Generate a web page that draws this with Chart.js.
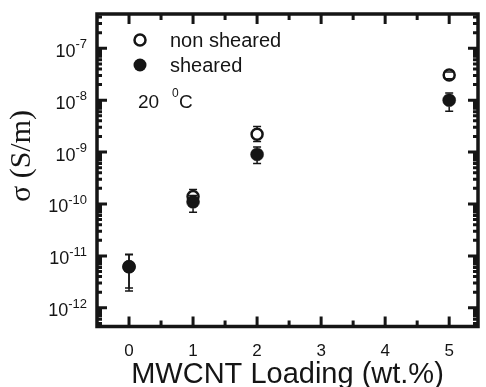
<!DOCTYPE html>
<html>
<head>
<meta charset="utf-8">
<script src="https://cdn.jsdelivr.net/npm/chart.js@4.4.1/dist/chart.umd.min.js"></script>
<style>
  html, body { margin: 0; padding: 0; background: #fff; }
</style>
</head>
<body>
<canvas id="conductivityChart" width="486" height="387"></canvas>
<script>
// MWCNT loading (wt.%) and conductivity (S/m)
const loadings = [0, 1, 2, 5];
const nonSheared = [6.2e-12, 1.4e-10, 2.2e-9, 3.05e-8];
const nonShearedLow = [2.1e-12, 1.1e-10, 1.6e-9, 2.6e-8];
const nonShearedHigh = [1.05e-11, 1.9e-10, 3.1e-9, 3.5e-8];
const sheared = [6.2e-12, 1.1e-10, 9.0e-10, 1.0e-8];
const shearedLow = [2.4e-12, 6.9e-11, 6.0e-10, 6.1e-9];
const shearedHigh = [1.08e-11, 1.45e-10, 1.25e-9, 1.38e-8];

const xTicks = [0, 0.5, 1, 1.5, 2, 2.5, 3, 3.5, 4, 4.5, 5];
const yTickExps = [-12, -11, -10, -9, -8, -7];
const yMinorSteps = [2, 3, 4, 5, 6, 7, 8, 9];

const sansFont = '"Liberation Sans", Arial, sans-serif';
const serifFont = '"Liberation Serif", "Times New Roman", serif';
const ink = '#151515';

const toPoints = (vals) => loadings.map((x, i) => ({ x: x, y: vals[i] }));

const OPEN_R = 5.5;
const FILLED_R = 6.5;

const decorPlugin = {
    id: 'decor',
    afterDatasetsDraw(chart) {
        const { ctx, scales: { x, y } } = chart;
        ctx.save();
        ctx.strokeStyle = ink;
        ctx.lineWidth = 1.5;
        const drawBars = (vals, lows, highs, r) => {
            loadings.forEach((v, i) => {
                const px = x.getPixelForValue(v);
                const py = y.getPixelForValue(vals[i]);
                const lo = y.getPixelForValue(lows[i]);
                const hi = y.getPixelForValue(highs[i]);
                ctx.beginPath();
                if (hi < py - r) { ctx.moveTo(px, py - r); ctx.lineTo(px, hi); }
                if (lo > py + r) { ctx.moveTo(px, py + r); ctx.lineTo(px, lo); }
                ctx.moveTo(px - 4, hi); ctx.lineTo(px + 4, hi);
                ctx.moveTo(px - 4, lo); ctx.lineTo(px + 4, lo);
                ctx.stroke();
            });
        };
        drawBars(nonSheared, nonShearedLow, nonShearedHigh, OPEN_R);
        drawBars(sheared, shearedLow, shearedHigh, FILLED_R);
        ctx.restore();
    },
    afterDraw(chart) {
        const { ctx, chartArea: a, scales: { x, y } } = chart;
        ctx.save();
        ctx.strokeStyle = ink;
        ctx.fillStyle = ink;

        // frame
        ctx.lineWidth = 3.5;
        ctx.strokeRect(a.left, a.top, a.right - a.left, a.bottom - a.top);

        // inward ticks, x (top and bottom)
        ctx.lineWidth = 3;
        ctx.beginPath();
        xTicks.forEach(v => {
            const px = x.getPixelForValue(v);
            const len = Number.isInteger(v) ? 10 : 6;
            ctx.moveTo(px, a.bottom); ctx.lineTo(px, a.bottom - len);
            ctx.moveTo(px, a.top); ctx.lineTo(px, a.top + len);
        });
        // inward ticks, y (left and right)
        const yVals = [];
        [-13].concat(yTickExps).forEach(e => {
            yVals.push({ v: Math.pow(10, e), major: true });
            yMinorSteps.forEach(k => yVals.push({ v: k * Math.pow(10, e), major: false }));
        });
        yVals.forEach(t => {
            if (t.v < y.min || t.v > y.max) return;
            const py = y.getPixelForValue(t.v);
            const len = t.major ? 10 : 5;
            ctx.moveTo(a.left, py); ctx.lineTo(a.left + len, py);
            ctx.moveTo(a.right, py); ctx.lineTo(a.right - len, py);
        });
        ctx.stroke();

        // y tick labels with superscript exponents
        yTickExps.forEach(e => {
            const py = y.getPixelForValue(Math.pow(10, e));
            const expText = '-' + Math.abs(e);
            ctx.font = '13px ' + sansFont;
            const wExp = ctx.measureText(expText).width;
            ctx.font = '18px ' + sansFont;
            const wBase = ctx.measureText('10').width;
            const right = 87;
            ctx.textAlign = 'left';
            ctx.textBaseline = 'alphabetic';
            ctx.fillText('10', right - wExp - wBase, py + 8.5);
            ctx.font = '13px ' + sansFont;
            ctx.fillText(expText, right - wExp, py);
        });

        // y axis title
        ctx.save();
        ctx.translate(22, 156);
        ctx.rotate(-Math.PI / 2);
        ctx.font = '30px ' + serifFont;
        ctx.textAlign = 'center';
        ctx.textBaseline = 'middle';
        ctx.fillText('\u03C3 (S/m)', 0, 0);
        ctx.restore();

        // legend
        ctx.lineWidth = 2.5;
        ctx.beginPath();
        ctx.arc(140, 40, OPEN_R, 0, Math.PI * 2);
        ctx.stroke();
        ctx.beginPath();
        ctx.arc(140, 65, FILLED_R, 0, Math.PI * 2);
        ctx.fill();
        ctx.font = '20px ' + sansFont;
        ctx.textAlign = 'left';
        ctx.textBaseline = 'alphabetic';
        ctx.fillText('non sheared', 170, 46.5);
        ctx.fillText('sheared', 170, 71.5);

        // temperature note
        ctx.font = '19px ' + sansFont;
        ctx.fillText('20', 138, 107.5);
        ctx.font = '12px ' + sansFont;
        ctx.fillText('0', 172, 96.5);
        ctx.font = '19px ' + sansFont;
        ctx.fillText('C', 179, 107.5);

        ctx.restore();
    }
};

const ctx = document.getElementById('conductivityChart').getContext('2d');
new Chart(ctx, {
    type: 'scatter',
    data: {
        datasets: [
            {
                label: 'sheared',
                data: toPoints(sheared),
                pointStyle: 'circle',
                pointRadius: FILLED_R,
                backgroundColor: ink,
                borderColor: ink,
                borderWidth: 0.5,
            },
            {
                label: 'non sheared',
                data: toPoints(nonSheared),
                pointStyle: 'circle',
                pointRadius: OPEN_R,
                backgroundColor: '#ffffff',
                borderColor: ink,
                borderWidth: 2.5,
            },
        ],
    },
    options: {
        responsive: false,
        animation: false,
        devicePixelRatio: 1,
        layout: { padding: { top: 14, right: 3, left: 0, bottom: 0 } },
        plugins: {
            legend: { display: false },
            tooltip: { enabled: false },
        },
        scales: {
            x: {
                type: 'linear',
                min: -0.5,
                max: 5.45,
                grid: { display: false, drawTicks: false },
                border: { display: false },
                afterBuildTicks: (scale) => { scale.ticks = xTicks.map(v => ({ value: v })); },
                ticks: {
                    autoSkip: false,
                    maxRotation: 0,
                    padding: 15,
                    color: ink,
                    font: { family: sansFont, size: 17 },
                    callback: (v) => Number.isInteger(v) ? String(v) : '',
                },
                title: {
                    display: true,
                    text: 'MWCNT Loading (wt.%)',
                    color: ink,
                    padding: 0,
                    font: { family: sansFont, size: 29, lineHeight: 0.85 },
                },
                afterFit: (scale) => { scale.height = 60.5; },
            },
            y: {
                type: 'logarithmic',
                min: Math.pow(10, -12.36),
                max: Math.pow(10, -6.34),
                grid: { display: false, drawTicks: false },
                border: { display: false },
                ticks: { display: false },
                afterFit: (scale) => { scale.width = 97; },
            },
        },
    },
    plugins: [decorPlugin],
});
</script>
</body>
</html>
